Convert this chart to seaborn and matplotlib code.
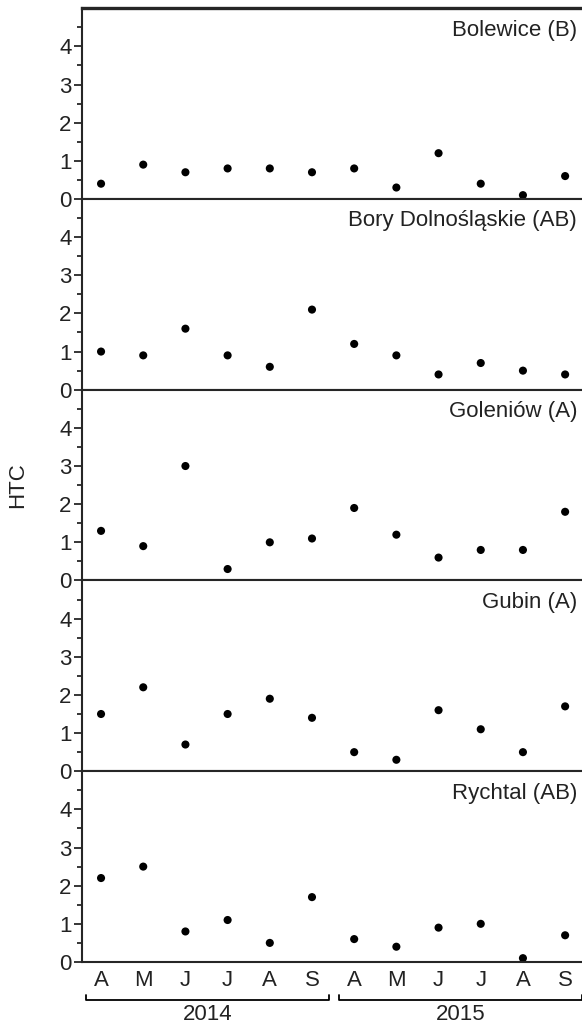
import numpy as np
import pandas as pd
import matplotlib.pyplot as plt
import seaborn as sns

# HTC per site, monthly Apr-Sep for 2014 and 2015
sites = ['Bolewice (B)', 'Bory Dolnośląskie (AB)', 'Goleniów (A)', 'Gubin (A)', 'Rychtal (AB)']
months = ['A', 'M', 'J', 'J', 'A', 'S']
years = ['2014', '2015']

bolewice = [0.4, 0.9, 0.7, 0.8, 0.8, 0.7, 0.8, 0.3, 1.2, 0.4, 0.1, 0.6]
bory = [1.0, 0.9, 1.6, 0.9, 0.6, 2.1, 1.2, 0.9, 0.4, 0.7, 0.5, 0.4]
goleniow = [1.3, 0.9, 3.0, 0.3, 1.0, 1.1, 1.9, 1.2, 0.6, 0.8, 0.8, 1.8]
gubin = [1.5, 2.2, 0.7, 1.5, 1.9, 1.4, 0.5, 0.3, 1.6, 1.1, 0.5, 1.7]
rychtal = [2.2, 2.5, 0.8, 1.1, 0.5, 1.7, 0.6, 0.4, 0.9, 1.0, 0.1, 0.7]

values = [bolewice, bory, goleniow, gubin, rychtal]
labels = months * len(years)

rows = []
for site, vals in zip(sites, values):
    for i, v in enumerate(vals):
        rows.append({'site': site, 'idx': i, 'htc': v})
df = pd.DataFrame(rows)

sns.set_style('ticks')
plt.rcParams['font.family'] = ['Liberation Sans', 'DejaVu Sans']
plt.rcParams['axes.linewidth'] = 1.5

FS = 16
fig, axes = plt.subplots(len(sites), 1, figsize=(5.82, 10.26), dpi=100, sharex=True)
fig.subplots_adjust(left=0.141, right=1.0, top=0.992, bottom=0.0624, hspace=0)

for ax, site in zip(axes, sites):
    sub = df[df['site'] == site]
    sns.scatterplot(data=sub, x='idx', y='htc', ax=ax, color='black', s=34,
                    edgecolor='none', legend=False)
    ax.set_ylim(0, 5)
    ax.set_xlim(-0.45, 11.4)
    ax.set_yticks([0, 1, 2, 3, 4])
    ax.set_yticks(np.arange(0.5, 5, 1), minor=True)
    ax.tick_params(axis='y', which='major', length=6, width=1.3, labelsize=FS, pad=1.5,
                   labelcolor='#222222')
    ax.tick_params(axis='y', which='minor', length=3.5, width=1.3)
    ax.tick_params(axis='x', length=0, labelsize=FS, pad=6, labelcolor='#222222')
    ax.set_xlabel('')
    ax.set_ylabel('')
    ax.spines['right'].set_visible(False)
    ax.text(0.99, 0.94, site, transform=ax.transAxes, ha='right', va='top', fontsize=FS,
            color='#222222')

axes[0].spines['top'].set_linewidth(2.4)

bottom = axes[-1]
bottom.set_xticks(range(len(labels)))
bottom.set_xticklabels(labels)

# year brackets below the month labels
tr = bottom.get_xaxis_transform()
for k, yr in enumerate(years):
    x0 = k * len(months) - 0.35
    x1 = k * len(months) + len(months) - 0.6
    bottom.plot([x0, x0, x1, x1], [-0.175, -0.2, -0.2, -0.175], color='black',
                lw=1.3, transform=tr, clip_on=False)
    bottom.text((x0 + x1) / 2, -0.275, yr, transform=tr, ha='center', va='center',
                fontsize=FS, color='#222222')

fig.text(0.031, 0.527, 'HTC', rotation=90, ha='center', va='center', fontsize=FS,
         color='#222222')

fig.savefig('out.png', dpi=100)
